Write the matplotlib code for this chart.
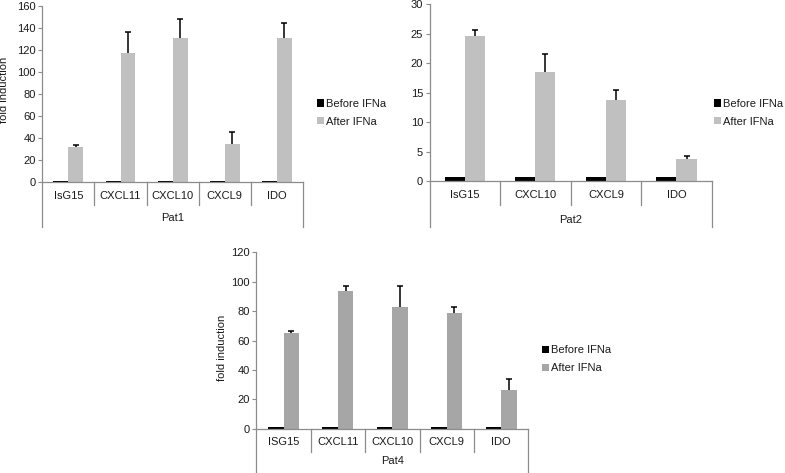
import matplotlib
matplotlib.use("Agg")
import matplotlib.pyplot as plt
import numpy as np

plt.rcParams['font.family'] = ['Liberation Sans', 'DejaVu Sans']
plt.rcParams['font.size'] = 8

# --- data ---
pat1_genes = ["IsG15", "CXCL11", "CXCL10", "CXCL9", "IDO"]
pat1_before = [1.0, 1.0, 1.0, 1.0, 1.0]
pat1_after = [32.0, 117.0, 131.0, 35.0, 131.0]
pat1_err = [2.0, 19.0, 17.0, 10.5, 13.0]

pat2_genes = ["IsG15", "CXCL10", "CXCL9", "IDO"]
pat2_before = [0.7, 0.7, 0.7, 0.7]
pat2_after = [24.7, 18.6, 13.8, 3.7]
pat2_err = [0.9, 2.9, 1.7, 0.6]

pat4_genes = ["ISG15", "CXCL11", "CXCL10", "CXCL9", "IDO"]
pat4_before = [1.0, 1.0, 1.0, 1.0, 1.0]
pat4_after = [65.0, 94.0, 83.0, 79.0, 26.0]
pat4_err = [1.8, 3.2, 13.8, 3.8, 8.0]

legend_labels = ["Before IFNa", "After IFNa"]

W, H = 785, 473
AXIS_GRAY = "#8c8c8c"
TEXT = "#1a1a1a"
FS = 8

fig = plt.figure(figsize=(W / 100, H / 100), dpi=100)


def add_axes_px(x0, x1, y_top, y_zero):
    # pixel box -> figure fraction
    return fig.add_axes([x0 / W, 1 - y_zero / H, (x1 - x0) / W, (y_zero - y_top) / H])


def draw_panel(ax, genes, before, after, err, after_color, ymax, ystep,
               group, sep_px, outer_px, label_px, legend_xy):
    n = len(genes)
    x = np.arange(n)
    w = 1 / 3.5
    b1 = ax.bar(x - w / 2, before, width=w, color="black", linewidth=0)
    b2 = ax.bar(x + w / 2, after, width=w, color=after_color, linewidth=0)
    eb = ax.errorbar(x + w / 2, after, yerr=[np.zeros(n), err], fmt="none",
                     ecolor="black", elinewidth=1.1, capsize=2.3, capthick=1.1)
    # only the upper cap, like the original
    for cap in eb[1]:
        if np.allclose(cap.get_ydata(), after):
            cap.set_visible(False)

    ax.set_xlim(-0.5, n - 0.5)
    ax.set_ylim(0, ymax)
    ax.set_yticks(np.arange(0, ymax + ystep / 2, ystep))
    ax.set_xticks(x)
    ax.set_xticklabels(genes)
    ax.tick_params(axis="x", length=0, pad=6.0, labelcolor=TEXT, labelsize=FS)
    ax.tick_params(axis="y", direction="out", length=2.6, width=0.8,
                   color=AXIS_GRAY, pad=2, labelcolor=TEXT, labelsize=FS)
    for s in ["top", "right"]:
        ax.spines[s].set_visible(False)
    for s in ["left", "bottom"]:
        ax.spines[s].set_color(AXIS_GRAY)
        ax.spines[s].set_linewidth(0.9)

    # category box lines below the axis
    h_px = ax.get_position().height * H
    tr = ax.get_xaxis_transform()
    for k in range(1, n):
        ax.plot([k - 0.5, k - 0.5], [0, -sep_px / h_px], transform=tr,
                clip_on=False, color=AXIS_GRAY, lw=0.9)
    for xe in [-0.5, n - 0.5]:
        ax.plot([xe, xe], [0, -outer_px / h_px], transform=tr,
                clip_on=False, color=AXIS_GRAY, lw=0.9)
    ax.text((n - 1) / 2, -label_px / h_px, group, transform=tr,
            ha="center", va="center", color=TEXT, fontsize=FS)

    ax.legend([b1, b2], legend_labels, loc="center left",
              bbox_to_anchor=(legend_xy[0] / W, 1 - legend_xy[1] / H),
              bbox_transform=fig.transFigure, frameon=False, borderpad=0,
              borderaxespad=0, handlelength=0.65, handleheight=0.65,
              handletextpad=0.2, labelspacing=0.7, fontsize=FS,
              labelcolor=TEXT)


ax1 = add_axes_px(42.3, 303, 5.6, 182.3)
draw_panel(ax1, pat1_genes, pat1_before, pat1_after, pat1_err, "#c0c0c0",
           160, 20, "Pat1", 22.7, 45, 36, (317, 112.8))

ax2 = add_axes_px(429.5, 711.7, 4.3, 181.3)
draw_panel(ax2, pat2_genes, pat2_before, pat2_after, pat2_err, "#c0c0c0",
           30, 5, "Pat2", 23.7, 45.4, 38.7, (714, 112.8))

ax4 = add_axes_px(256.3, 528.3, 252.3, 428.7)
draw_panel(ax4, pat4_genes, pat4_before, pat4_after, pat4_err, "#a6a6a6",
           120, 20, "Pat4", 23, 46, 32.3, (541.7, 359.3))

fig.text(4 / W, 1 - 90 / H, "fold induction", rotation=90,
         ha="center", va="center", color=TEXT, fontsize=FS)
fig.text(221.7 / W, 1 - 348.3 / H, "fold induction", rotation=90,
         ha="center", va="center", color=TEXT, fontsize=FS)

fig.savefig("out.png", dpi=100)
